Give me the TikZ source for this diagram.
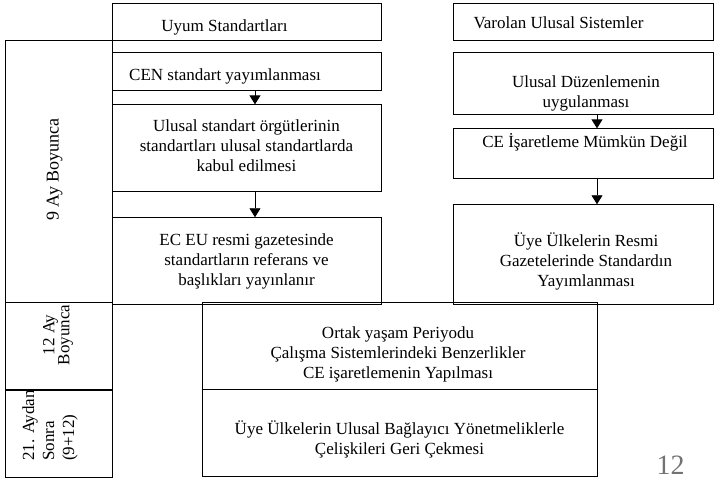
\documentclass[tikz,border=0pt]{standalone}
\usepackage{fontspec}
\setmainfont{Liberation Serif}
\usetikzlibrary{arrows.meta,positioning}

\begin{document}
\begin{tikzpicture}
    [x=1pt,y=-1pt,>={Triangle[width=11pt,length=9pt]},
     kutu/.style={draw,line width=0.9pt,inner sep=0pt},
     yazi/.style={align=center,inner sep=0pt,font=\fontsize{17}{20}\selectfont},
     ok/.style={->,line width=0.9pt}]

    \useasboundingbox (0,0) rectangle (714,479);

    % sol sutun
    \node[kutu,minimum width=269pt,minimum height=37pt] (uyum) at (246.5,21.5) {};
    \node[kutu,minimum width=269pt,minimum height=38pt] (cen) [below=12pt of uyum] {};
    \node[kutu,minimum width=269pt,minimum height=87pt] (ulusal) [below=13pt of cen] {};
    \node[kutu,minimum width=269pt,minimum height=87pt] (ecEu) [below=25pt of ulusal] {};

    % sag sutun
    \node[kutu,minimum width=260pt,minimum height=37pt] (varolan) at (583,21.5) {};
    \node[kutu,minimum width=260pt,minimum height=62pt] (duzen) [below=12pt of varolan] {};
    \node[kutu,minimum width=260pt,minimum height=50pt] (ceIs) [below=13pt of duzen] {};
    \node[kutu,minimum width=260pt,minimum height=100pt] (uyeRes) [below=25pt of ceIs] {};

    % alt kutular
    \node[kutu,minimum width=395pt,minimum height=87pt] (ortak) at (399.5,345.5) {};
    \node[kutu,minimum width=395pt,minimum height=87pt] (uyeUl) [below=0pt of ortak] {};

    % zaman sutunu
    \node[kutu,minimum width=107pt,minimum height=262pt] (dokuz) at (58.5,171) {};
    \node[kutu,minimum width=107pt,minimum height=87pt] (onIki) [below=0pt of dokuz] {};
    \node[kutu,minimum width=107pt,minimum height=87pt] (yirmiBir) [below=0pt of onIki] {};

    % yazilar
    \node[yazi] (uyumY) at ([xshift=-22pt,yshift=-6pt]uyum) {Uyum Standartları};
    \node[yazi] (cenY) at ([xshift=-21.5pt,yshift=-4.5pt]cen) {CEN standart yayımlanması};
    \node[yazi] (ulusalY) at ([yshift=3pt]ulusal) {Ulusal standart örgütlerinin\\standartları ulusal standartlarda\\kabul edilmesi};
    \node[yazi] (ecEuY) at (ecEu) {EC EU resmi gazetesinde\\standartların referans ve\\başlıkları yayınlanır};
    \node[yazi] (varolanY) at ([xshift=-24.5pt,yshift=-1.5pt]varolan) {Varolan Ulusal Sistemler};
    \node[yazi] (duzenY) at ([xshift=3pt,yshift=-9.5pt]duzen) {Ulusal Düzenlemenin\\uygulanması};
    \node[yazi] (ceIsY) at ([xshift=2pt,yshift=11pt]ceIs) {CE İşaretleme Mümkün Değil};
    \node[yazi] (uyeResY) at ([xshift=3pt,yshift=-6.5pt]uyeRes) {Üye Ülkelerin Resmi\\Gazetelerinde Standardın\\Yayımlanması};
    \node[yazi] (ortakY) at ([xshift=-1.5pt,yshift=-9pt]ortak) {Ortak yaşam Periyodu\\Çalışma Sistemlerindeki Benzerlikler\\CE işaretlemenin Yapılması};
    \node[yazi] (uyeUlY) at ([yshift=-6.5pt]uyeUl) {Üye Ülkelerin Ulusal Bağlayıcı Yönetmeliklerle\\Çelişkileri Geri Çekmesi};

    \node[yazi,rotate=90,font=\fontsize{18}{20}\selectfont] (dokuzY) at (54.5,169.5) {9 Ay Boyunca};
    \node[yazi,rotate=90,font=\fontsize{17}{15}\selectfont] (onIkiY) at (58,335) {12 Ay\\Boyunca};
    \node[yazi,rotate=90,align=left] (yirmiBirY) at (50,425.5) {21. Aydan\\Sonra\\(9+12)};

    \node[inner sep=0pt,font=\fontsize{28}{30}\selectfont,text=black!55] (sayfa) at (670.5,465) {12};

    % oklar
    \draw[ok] ([xshift=8.5pt]cen.south) -- ([xshift=8.5pt]ulusal.north);
    \draw[ok] ([xshift=8.5pt]ulusal.south) -- ([xshift=8.5pt]ecEu.north);
    \draw[ok] ([xshift=14pt]duzen.south) -- ([xshift=14pt]ceIs.north);
    \draw[ok] ([xshift=14pt]ceIs.south) -- ([xshift=14pt]uyeRes.north);

\end{tikzpicture}
\end{document}
